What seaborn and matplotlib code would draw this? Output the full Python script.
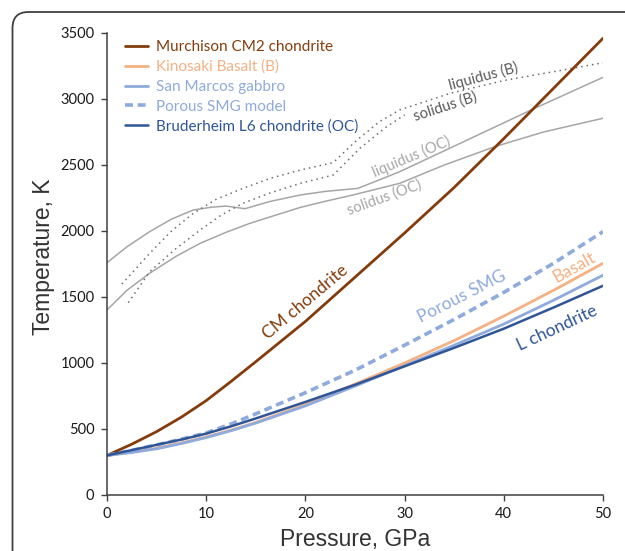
import numpy as np
import pandas as pd
import matplotlib
matplotlib.use("Agg")
import matplotlib.pyplot as plt
import seaborn as sns
from matplotlib.patches import FancyBboxPatch

# ---------------- data ----------------
p_main = [0, 2.5, 5, 7.5, 10, 12.5, 15, 20, 25, 30, 35, 40, 45, 50]
t_cm = [300, 385, 480, 590, 715, 860, 1010, 1315, 1650, 1985, 2330, 2700, 3080, 3460]
t_basalt = [300, 325, 355, 395, 440, 492, 550, 685, 840, 1000, 1170, 1355, 1550, 1755]
t_smg = [300, 322, 350, 390, 435, 487, 545, 675, 825, 980, 1135, 1295, 1475, 1665]
t_porous = [300, 338, 380, 423, 470, 538, 615, 775, 945, 1135, 1330, 1535, 1755, 1995]
t_l6 = [300, 340, 380, 420, 465, 520, 580, 705, 835, 975, 1115, 1260, 1420, 1585]

p_liq_oc = [0, 2, 4.3, 6.5, 8.7, 10.5, 12.0, 13.9, 16.5, 19.5, 22, 25.3, 29.5, 35.6, 42.9, 50]
t_liq_oc = [1760, 1880, 1995, 2090, 2159, 2180, 2189, 2169, 2225, 2273, 2300, 2323, 2449, 2664, 2922, 3164]
p_sol_oc = [0, 2, 4.3, 7, 9.4, 12, 14.4, 17, 19.5, 22, 24.8, 29.5, 34, 39.1, 44, 50]
t_sol_oc = [1402, 1550, 1680, 1810, 1907, 1990, 2058, 2120, 2179, 2225, 2273, 2361, 2500, 2639, 2750, 2854]
p_liq_b = [1.5, 4.3, 6.5, 8.7, 11, 13.7, 16.5, 19.5, 22.8, 25.2, 27.5, 29.5, 34.6, 40, 46.9, 50]
t_liq_b = [1598, 1831, 2000, 2134, 2240, 2323, 2400, 2462, 2518, 2689, 2830, 2917, 3043, 3140, 3232, 3275]
p_sol_b = [2.15, 4.3, 7, 9.4, 11.5, 13.7, 16.5, 19.5, 22.8, 25.5, 28, 30]
t_sol_b = [1457, 1692, 1870, 2008, 2120, 2210, 2290, 2361, 2424, 2626, 2780, 2880]

legend_labels = ["Murchison CM2 chondrite", "Kinosaki Basalt (B)", "San Marcos gabbro",
                 "Porous SMG model", "Bruderheim L6 chondrite (OC)"]
x_ticks = [0, 10, 20, 30, 40, 50]
y_ticks = [0, 500, 1000, 1500, 2000, 2500, 3000, 3500]

# ---------------- style ----------------
sns.set_theme(style="white")
plt.rcParams['font.family'] = ['Lato', 'DejaVu Sans']

c_cm = "#843C0C"
c_bas = "#F4B183"
c_smg = "#8FAADC"
c_l6 = "#2F5597"
c_gray = "#A6A6A6"
c_dot = "#6E6E6E"

fig = plt.figure(figsize=(6.25, 5.51), dpi=100)

# rounded frame
bg = fig.add_axes([0, 0, 1, 1], zorder=-5)
bg.set_xlim(0, 625)
bg.set_ylim(551, 0)
bg.axis("off")
bg.add_patch(FancyBboxPatch((12.5, 12), 700, 700, boxstyle="round,pad=0,rounding_size=16",
                            fill=False, ec="#404040", lw=1.3))

ax = fig.add_axes([107/625, 56/551, 496/625, 462/551])
ax.patch.set_alpha(0)

# gray phase lines
sns.lineplot(x=p_liq_oc, y=t_liq_oc, ax=ax, color=c_gray, lw=1.1)
sns.lineplot(x=p_sol_oc, y=t_sol_oc, ax=ax, color=c_gray, lw=1.1)
sns.lineplot(x=p_liq_b, y=t_liq_b, ax=ax, color=c_dot, lw=1.1, linestyle=(0, (1, 2.6)))
sns.lineplot(x=p_sol_b, y=t_sol_b, ax=ax, color=c_dot, lw=1.1, linestyle=(0, (1, 2.6)))

# Hugoniot-derived temperature curves
sns.lineplot(x=p_main, y=t_cm, ax=ax, color=c_cm, lw=2.0, label=legend_labels[0])
sns.lineplot(x=p_main, y=t_basalt, ax=ax, color=c_bas, lw=2.0, label=legend_labels[1])
sns.lineplot(x=p_main, y=t_smg, ax=ax, color=c_smg, lw=2.0, label=legend_labels[2])
sns.lineplot(x=p_main, y=t_porous, ax=ax, color=c_smg, lw=2.6, linestyle=(0, (2.2, 1.3)),
             label=legend_labels[3])
sns.lineplot(x=p_main, y=t_l6, ax=ax, color=c_l6, lw=1.8, label=legend_labels[4])

ax.set_xlim(0, 50)
ax.set_ylim(0, 3500)
ax.set_xticks(x_ticks)
ax.set_yticks(y_ticks)
for s in ["top", "right"]:
    ax.spines[s].set_visible(False)
for s in ["left", "bottom"]:
    ax.spines[s].set_color("#404040")
    ax.spines[s].set_linewidth(1.1)
ax.tick_params(axis="both", direction="out", length=4, width=1.0, color="#404040",
               labelsize=10.5, labelcolor="#1a1a1a", left=True, bottom=True, pad=5)

ax.set_xlabel("Pressure, GPa", fontsize=16.5, family=["Liberation Sans", "DejaVu Sans"],
              color="#333333")
ax.set_ylabel("Temperature, K", fontsize=16.5, family=["Liberation Sans", "DejaVu Sans"],
              color="#333333")
ax.xaxis.set_label_coords(0.5, -0.071)
ax.yaxis.set_label_coords(-0.105, 0.515)

leg = ax.legend(loc="upper left", bbox_to_anchor=(0.036, 0.985), frameon=False,
                fontsize=11, handlelength=1.5, handletextpad=0.55, labelspacing=0.38,
                borderpad=0, borderaxespad=0)
for txt, col in zip(leg.get_texts(), [c_cm, c_bas, c_smg, c_smg, c_l6]):
    txt.set_color(col)

# in-plot labels
def lab(x, y, s, rot, col, size):
    ax.text(x, y, s, rotation=rot, rotation_mode="anchor", ha="center", va="center",
            color=col, fontsize=size)

lab(37.9, 3174, "liquidus (B)", 15, "#595959", 10.5)
lab(34.1, 2939, "solidus (B)", 18, "#595959", 10.5)
lab(30.7, 2561, "liquidus (OC)", 23, c_gray, 10.5)
lab(28.0, 2250, "solidus (OC)", 20, c_gray, 10.5)
lab(20.0, 1462, "CM chondrite", 40, c_cm, 12.5)
lab(35.8, 1500, "Porous SMG", 27, c_smg, 12.5)
lab(47.1, 1727, "Basalt", 29, c_bas, 12.5)
lab(45.4, 1265, "L chondrite", 25, c_l6, 12.5)

fig.savefig("out.png", dpi=100)
